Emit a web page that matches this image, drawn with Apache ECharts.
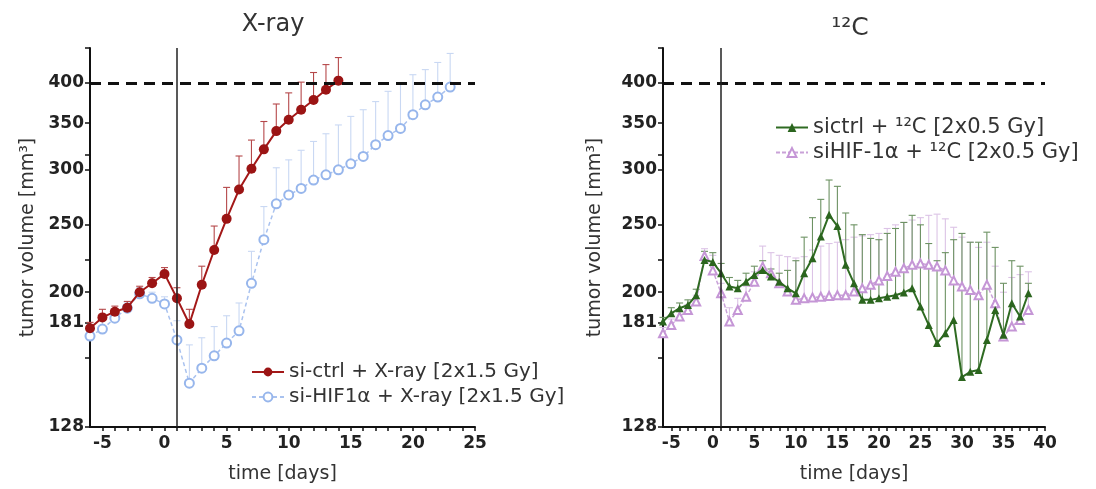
<!DOCTYPE html>
<html>
<head>
<meta charset="utf-8">
<script src="https://cdn.jsdelivr.net/npm/echarts@6/dist/echarts.min.js"></script>
<style>
  html, body { margin: 0; padding: 0; background: #fff; }
  #chart { width: 1096px; height: 489px; }
</style>
</head>
<body>
<div id="chart"></div>
<script>
// X-ray panel: days and mean tumor volume, upper error ends
const daysCtrlX = [-6, -5, -4, -3, -2, -1, 0, 1, 2, 3, 4, 5, 6, 7, 8, 9, 10, 11, 12, 13, 14]
const ctrlX = [177.5, 184, 187.5, 190, 200, 206, 212.5, 196, 180, 205, 230, 255, 281, 301, 321, 341, 354, 366, 378, 391, 403]
const ctrlXErr = [181, 189, 191, 194, 204, 210, 217, 203, 189, 218, 249, 283, 314, 331, 352, 373, 387, 401, 414, 425, 435]

const daysHifX = [-6, -5, -4, -3, -2, -1, 0, 1, 2, 3, 4, 5, 6, 7, 8, 9, 10, 11, 12, 13, 14, 15, 16, 17, 18, 19, 20, 21, 22, 23]
const hifX = [173, 177, 183.5, 189.7, 199, 196, 192.4, 170.8, 148, 155.5, 162, 169, 176, 206, 238, 268, 276, 282, 290, 295, 300, 306, 313.5, 326, 336, 344, 360, 372, 381.6, 394.5]
const hifXErr = [177, 183, 188, 193, 203, 200, 197, 182, 168, 172, 178.5, 185, 193, 229, 265.6, 302, 310, 320, 329.5, 338, 348, 358, 366, 376, 389, 400, 411, 418, 428, 441]

// 12C panel
const daysC = [-6, -5, -4, -3, -2, -1, 0, 1, 2, 3, 4, 5, 6, 7, 8, 9, 10, 11, 12, 13, 14, 15, 16, 17, 18, 19, 20, 21, 22, 23, 24, 25, 26, 27, 28, 29, 30, 31, 32, 33, 34, 35, 36, 37, 38]
const ctrlC = [181.5, 186.5, 189.7, 191.7, 198, 222.6, 221, 213, 203.8, 202.6, 207, 211.8, 215.3, 210.7, 207, 202.6, 199.3, 213, 223.8, 240.5, 258.4, 249, 219, 206, 195, 195, 196, 197, 198, 199.8, 202.6, 190.7, 179.4, 169, 174.6, 182.5, 151, 153.7, 154.6, 170.8, 188.6, 173.7, 192.8, 184.5, 199.3]
const ctrlCErr = [184, 190, 193, 195, 202, 229, 228, 220, 210, 208, 213, 218, 222, 216, 213, 215, 222, 240, 256, 272, 290, 284, 260, 250, 242, 239, 238, 243, 247, 252, 258, 250, 235, 222, 228, 238, 243, 236, 236, 244, 232, 206, 222, 218, 206]
const hifC = [174.6, 179.4, 184.5, 188.6, 193.9, 225.5, 215, 199.3, 181.5, 188.6, 197, 207, 217.7, 213, 206, 200.4, 195, 196, 196.5, 197, 197.5, 198, 198, 200.4, 202.6, 205, 208, 211, 214, 216.5, 219, 220, 219, 217.7, 215, 208, 203.8, 201.5, 198, 205, 192.8, 172.7, 178.5, 182.5, 188.6]
const hifCErr = [178, 183, 188, 192, 198, 231, 226, 206, 190, 196, 204, 214, 233, 228, 226, 225, 224, 225, 230, 233, 235, 236, 238, 240, 241, 242, 243, 247, 250, 252, 254, 256, 258, 259, 255, 248, 240, 236, 232, 236, 218, 200, 210, 212, 214]

// tick labels
const yLabels = [128, 181, 200, 250, 300, 350, 400]
const yTicks = [128, 161, 181, 200, 223, 250, 300, 315, 350, 400, 449]
const xLabelsX = [-5, 0, 5, 10, 15, 20, 25]
const xLabelsC = [-5, 0, 5, 10, 15, 20, 25, 30, 35, 40]

const names = {
  ctrlX: "si-ctrl + X-ray [2x1.5 Gy]",
  hifX: "si-HIF1α + X-ray [2x1.5 Gy]",
  ctrlC: "sictrl + ¹²C [2x0.5 Gy]",
  hifC: "siHIF-1α + ¹²C [2x0.5 Gy]",
}

const FONT = "DejaVu Sans"

const pairs = (days, vals) => days.map((d, i) => [d, vals[i]])
const triples = (days, vals, errs) => days.map((d, i) => [d, vals[i], errs[i]])

const dayTicks = (from, to) => {
  const t = []
  for (let d = from; d <= to; d++) t.push(d)
  return t
}

// 误差线 (只画上方)
const errorBar = (color) => (params, api) => {
  const x = api.value(0)
  const base = api.coord([x, api.value(1)])
  const top = api.coord([x, api.value(2)])
  const half = 3.5
  return {
    type: "group",
    children: [
      { type: "line", shape: { x1: base[0], y1: base[1], x2: top[0], y2: top[1] }, style: { stroke: color, lineWidth: 1.1 } },
      { type: "line", shape: { x1: top[0] - half, y1: top[1], x2: top[0] + half, y2: top[1] }, style: { stroke: color, lineWidth: 1.1 } },
    ],
  }
}

const refLines = {
  silent: true,
  symbol: "none",
  label: { show: false },
  data: [
    { yAxis: 400, lineStyle: { color: "#111", width: 3, type: [11, 7] } },
    { xAxis: 1, lineStyle: { color: "#222", width: 1.5, type: "solid" } },
  ],
}

const makeX = (grid, max, labels) => ({
  type: "value",
  gridIndex: grid,
  min: -6,
  max: max,
  name: "time [days]",
  nameLocation: "middle",
  nameGap: 38,
  nameTextStyle: { fontFamily: FONT, fontSize: 19, color: "#333" },
  splitLine: { show: false },
  axisLine: { show: true, onZero: false, lineStyle: { color: "#111", width: 2 } },
  axisTick: { show: true, length: 4, customValues: dayTicks(-5, max), lineStyle: { color: "#111", width: 1.5 } },
  axisLabel: {
    customValues: labels,
    margin: 8,
    fontFamily: FONT,
    fontSize: 17,
    fontWeight: "bold",
    color: "#222",
    formatter: (v) => String(v),
  },
})

const makeY = (grid, gap) => ({
  type: "log",
  logBase: 2,
  gridIndex: grid,
  min: 128,
  max: 449,
  name: "tumor volume [mm³]",
  nameLocation: "middle",
  nameRotate: 90,
  nameGap: gap,
  nameTextStyle: { fontFamily: FONT, fontSize: 19, color: "#333" },
  splitLine: { show: false },
  axisLine: { show: true, onZero: false, lineStyle: { color: "#111", width: 2 } },
  axisTick: { show: true, length: 5, customValues: yTicks, lineStyle: { color: "#111", width: 1.5 } },
  axisLabel: {
    customValues: yLabels,
    margin: 6,
    fontFamily: FONT,
    fontSize: 17,
    fontWeight: "bold",
    color: "#222",
    formatter: (v) => String(Math.round(v)),
  },
})

const option = {
  animation: false,
  backgroundColor: "#fff",
  graphic: [
    { type: "text", x: 273, y: 25, style: { text: "X-ray", fontFamily: FONT, fontSize: 24, fill: "#333", align: "center", verticalAlign: "middle" } },
    { type: "text", x: 850, y: 28, style: { text: "¹²C", fontFamily: FONT, fontSize: 25, fill: "#333", align: "center", verticalAlign: "middle" } },
  ],
  grid: [
    { left: 90, top: 48, width: 385, height: 379 },
    { left: 663, top: 48, width: 382, height: 379 },
  ],
  xAxis: [makeX(0, 25, xLabelsX), makeX(1, 40, xLabelsC)],
  yAxis: [makeY(0, 52), makeY(1, 58)],
  legend: [
    {
      data: [names.ctrlX, names.hifX],
      orient: "vertical",
      left: 246,
      top: 357,
      itemWidth: 32,
      itemHeight: 11,
      itemGap: 5,
      textStyle: { fontFamily: FONT, fontSize: 20, color: "#333" },
    },
    {
      data: [names.ctrlC, names.hifC],
      orient: "vertical",
      left: 770,
      top: 112,
      itemWidth: 32,
      itemHeight: 11,
      itemGap: 4,
      textStyle: { fontFamily: FONT, fontSize: 21, color: "#333" },
    },
  ],
  series: [
    {
      type: "custom",
      name: "hifXErr",
      xAxisIndex: 0,
      yAxisIndex: 0,
      renderItem: errorBar("#c9d8f3"),
      encode: { x: 0, y: [1, 2] },
      data: triples(daysHifX, hifX, hifXErr),
      markLine: refLines,
      z: 1,
    },
    {
      type: "line",
      name: names.hifX,
      xAxisIndex: 0,
      yAxisIndex: 0,
      data: pairs(daysHifX, hifX),
      symbol: "emptyCircle",
      symbolSize: 9,
      lineStyle: { color: "#a9c2ef", width: 1.5, type: [4, 3] },
      itemStyle: { color: "#97b6ec", borderWidth: 1.6 },
      z: 2,
    },
    {
      type: "custom",
      name: "ctrlXErr",
      xAxisIndex: 0,
      yAxisIndex: 0,
      renderItem: errorBar("#b5484a"),
      encode: { x: 0, y: [1, 2] },
      data: triples(daysCtrlX, ctrlX, ctrlXErr),
      z: 3,
    },
    {
      type: "line",
      name: names.ctrlX,
      xAxisIndex: 0,
      yAxisIndex: 0,
      data: pairs(daysCtrlX, ctrlX),
      symbol: "circle",
      symbolSize: 10,
      lineStyle: { color: "#a31818", width: 2 },
      itemStyle: { color: "#9b1414" },
      z: 4,
    },
    {
      type: "custom",
      name: "hifCErr",
      xAxisIndex: 1,
      yAxisIndex: 1,
      renderItem: errorBar("#dcc3e6"),
      encode: { x: 0, y: [1, 2] },
      data: triples(daysC, hifC, hifCErr),
      markLine: refLines,
      z: 1,
    },
    {
      type: "custom",
      name: "ctrlCErr",
      xAxisIndex: 1,
      yAxisIndex: 1,
      renderItem: errorBar("#6d9263"),
      encode: { x: 0, y: [1, 2] },
      data: triples(daysC, ctrlC, ctrlCErr),
      z: 2,
    },
    {
      type: "line",
      name: names.hifC,
      xAxisIndex: 1,
      yAxisIndex: 1,
      data: pairs(daysC, hifC),
      symbol: "emptyTriangle",
      symbolSize: 8,
      lineStyle: { color: "#c9a2d8", width: 1.5, type: [4, 2] },
      itemStyle: { color: "#c596d6", borderWidth: 1.4 },
      z: 3,
    },
    {
      type: "line",
      name: names.ctrlC,
      xAxisIndex: 1,
      yAxisIndex: 1,
      data: pairs(daysC, ctrlC),
      symbol: "triangle",
      symbolSize: 8,
      lineStyle: { color: "#2f6b22", width: 2 },
      itemStyle: { color: "#2b651e" },
      z: 4,
    },
  ],
}

const chart = echarts.init(document.getElementById("chart"))
chart.setOption(option)
</script>
</body>
</html>
